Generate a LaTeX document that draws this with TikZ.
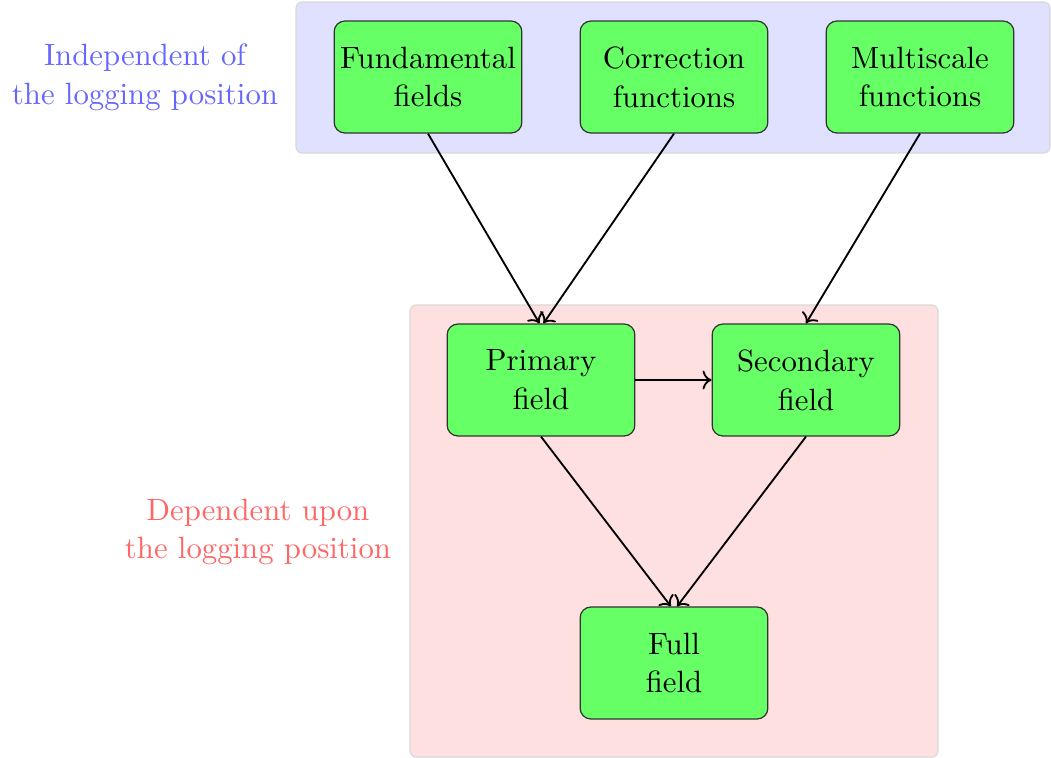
\documentclass[tikz,border=0pt]{standalone}
\usetikzlibrary{arrows.meta}
\begin{document}
\begin{tikzpicture}[x=0.325pt,y=-0.325pt,
  every node/.style={font=\fontsize{10}{12.6}\selectfont},
  box/.style={draw=black!80,fill=green!60!white,rounded corners=3.5pt,
    minimum width=61pt,minimum height=36.4pt,align=center,inner sep=1pt},
  conn/.style={->,semithick},
  bgbox/.style={draw=black!15,rounded corners=2pt}]
\useasboundingbox (0,0) rectangle (1051,758);
\filldraw[bgbox,fill=blue!12] (296,2) rectangle (1050,153);
\filldraw[bgbox,fill=red!12] (410,305) rectangle (938,757);
\node[text=blue!60,align=center] (indep) at (145,77) {Independent of\\the logging position};
\node[text=red!60,align=center] (dep) at (258,532) {Dependent upon\\the logging position};
\node[box] (fund) at (428,77) {Fundamental\\fields};
\node[box] (corr) at (674,77) {Correction\\functions};
\node[box] (multi) at (920,77) {Multiscale\\functions};
\node[box] (prim) at (541,380) {Primary\\field};
\node[box] (sec) at (806,380) {Secondary\\field};
\node[box] (full) at (674,663) {Full\\field};
\draw[conn] (fund.south) -- ([xshift=-0.5pt]prim.north);
\draw[conn] (corr.south) -- ([xshift=0.8pt]prim.north);
\draw[conn] (multi.south) -- (sec.north);
\draw[conn] (prim.east) -- (sec.west);
\draw[conn] (prim.south) -- ([xshift=-1pt]full.north);
\draw[conn] (sec.south) -- ([xshift=1pt]full.north);
\end{tikzpicture}
\end{document}
